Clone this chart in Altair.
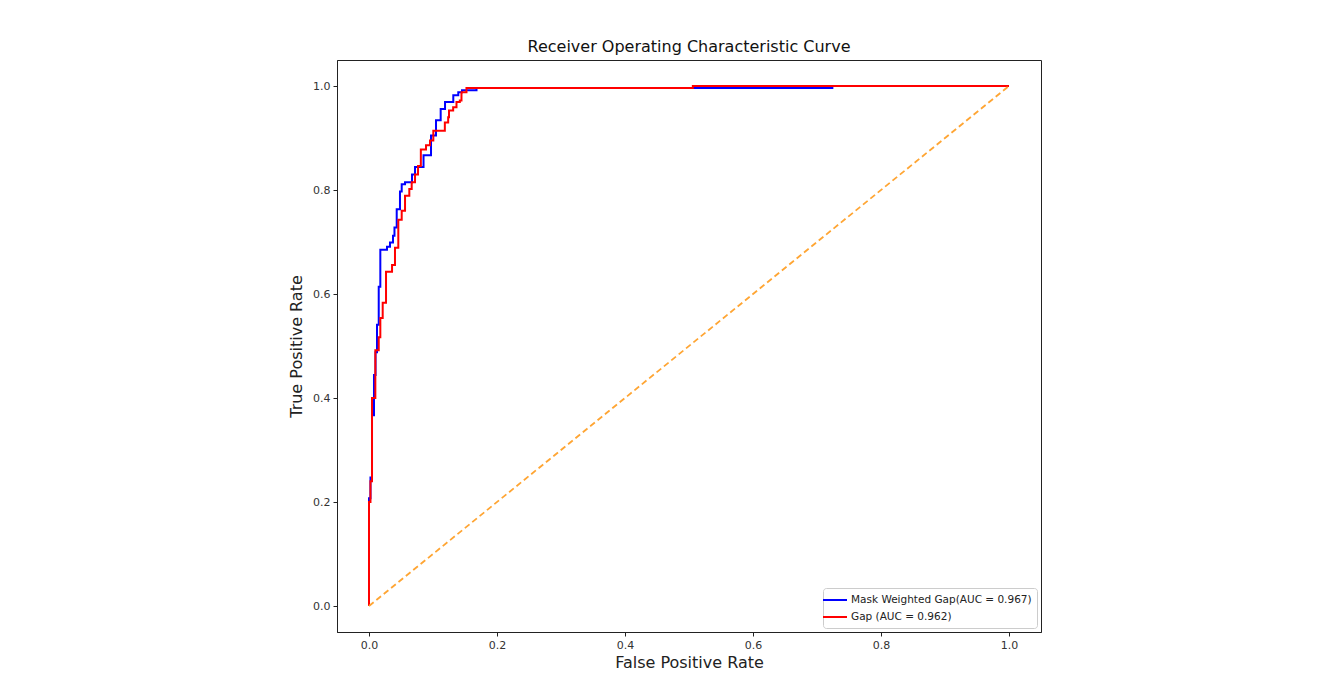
import altair as alt
import pandas as pd

series_names = ["Mask Weighted Gap(AUC = 0.967)", "Gap (AUC = 0.962)"]
series_colors = ["#0000ff", "#ff0000"]

blue_fpr = [0, 0, 0.0023, 0.0023, 0.0047, 0.0047, 0.0078, 0.0078, 0.0102, 0.0102,
            0.0125, 0.0125, 0.0152, 0.0152, 0.0177, 0.0177, 0.0281, 0.0281, 0.0328, 0.0328,
            0.0375, 0.0375, 0.0398, 0.0398, 0.0433, 0.0433, 0.0484, 0.0484, 0.0511, 0.0511,
            0.0563, 0.0563, 0.0672, 0.0672, 0.0719, 0.0719, 0.0852, 0.0852, 0.0969, 0.0969,
            0.1047, 0.1047, 0.112, 0.112, 0.1188, 0.1188, 0.1317, 0.1317, 0.1395, 0.1395,
            0.1453, 0.1453, 0.168, 0.168, 0.724, 0.724, 1.0]
blue_tpr = [0, 0.207, 0.207, 0.247, 0.247, 0.367, 0.367, 0.444, 0.444, 0.488,
            0.488, 0.541, 0.541, 0.614, 0.614, 0.685, 0.685, 0.691, 0.691, 0.699,
            0.699, 0.712, 0.712, 0.728, 0.728, 0.763, 0.763, 0.797, 0.797, 0.811,
            0.811, 0.815, 0.815, 0.830, 0.830, 0.844, 0.844, 0.867, 0.867, 0.905,
            0.905, 0.934, 0.934, 0.956, 0.956, 0.969, 0.969, 0.982, 0.982, 0.988,
            0.988, 0.992, 0.992, 0.996, 0.996, 1.0, 1.0]

red_fpr = [0, 0, 0.0023, 0.0023, 0.0047, 0.0047, 0.0099, 0.0099, 0.0152, 0.0152,
           0.0177, 0.0177, 0.0214, 0.0214, 0.0266, 0.0266, 0.036, 0.036, 0.0406, 0.0406,
           0.0458, 0.0458, 0.0511, 0.0511, 0.0563, 0.0563, 0.0630, 0.0630, 0.0667, 0.0667,
           0.0719, 0.0719, 0.0766, 0.0766, 0.081, 0.081, 0.0891, 0.0891, 0.0953, 0.0953,
           0.1005, 0.1005, 0.1185, 0.1185, 0.1237, 0.1237, 0.125, 0.125, 0.1315, 0.1315,
           0.1367, 0.1367, 0.1419, 0.1419, 0.1445, 0.1445, 0.1523, 0.1523, 0.506, 0.506, 1.0]
red_tpr = [0, 0.2, 0.2, 0.24, 0.24, 0.40, 0.40, 0.492, 0.492, 0.517,
           0.517, 0.554, 0.554, 0.583, 0.583, 0.643, 0.643, 0.656, 0.656, 0.689,
           0.689, 0.743, 0.743, 0.760, 0.760, 0.789, 0.789, 0.802, 0.802, 0.815,
           0.815, 0.830, 0.830, 0.846, 0.846, 0.878, 0.878, 0.886, 0.886, 0.895,
           0.895, 0.914, 0.914, 0.930, 0.930, 0.940, 0.940, 0.953, 0.953, 0.959,
           0.959, 0.969, 0.969, 0.972, 0.972, 0.988, 0.988, 0.996, 0.996, 1.0, 1.0]

diag_fpr = [0.0, 1.0]
diag_tpr = [0.0, 1.0]

tick_values = [0.0, 0.2, 0.4, 0.6, 0.8, 1.0]

FONT = "DejaVu Sans"

blue_df = pd.DataFrame({"fpr": blue_fpr, "tpr": blue_tpr,
                        "idx": range(len(blue_fpr)), "series": series_names[0]})
red_df = pd.DataFrame({"fpr": red_fpr, "tpr": red_tpr,
                       "idx": range(len(red_fpr)), "series": series_names[1]})
diag_df = pd.DataFrame({"fpr": diag_fpr, "tpr": diag_tpr, "idx": [0, 1]})

xscale = alt.Scale(domain=[-0.05, 1.05], nice=False, zero=False)
yscale = alt.Scale(domain=[-0.05, 1.05], nice=False, zero=False)

x_enc = alt.X("fpr:Q", scale=xscale,
              axis=alt.Axis(values=tick_values, format=".1f", title="False Positive Rate",
                            grid=False, tickSize=4, labelPadding=3, titlePadding=4,
                            titleFontSize=16, titleFontWeight="normal", titleColor="#222",
                            labelFontSize=11, labelColor="#333", tickColor="#222",
                            domainColor="#222", labelFont=FONT, titleFont=FONT))
y_enc = alt.Y("tpr:Q", scale=yscale,
              axis=alt.Axis(values=tick_values, format=".1f", title="True Positive Rate",
                            grid=False, tickSize=4, labelPadding=3, titlePadding=8,
                            titleFontSize=16, titleFontWeight="normal", titleColor="#222",
                            labelFontSize=11, labelColor="#333", tickColor="#222",
                            domainColor="#222", labelFont=FONT, titleFont=FONT))

color_enc = alt.Color("series:N",
                      scale=alt.Scale(domain=series_names, range=series_colors),
                      legend=alt.Legend(title=None, orient="bottom-right", offset=4,
                                        symbolType="M-2,0H2", symbolSize=144,
                                        symbolStrokeWidth=2, labelFontSize=10.5,
                                        labelFont=FONT, labelColor="#222",
                                        labelLimit=400,
                                        labelOffset=9, rowPadding=4, padding=5,
                                        fillColor="white", strokeColor="#cccccc",
                                        cornerRadius=3))

blue_layer = alt.Chart(blue_df).mark_line(strokeWidth=2).encode(
    x=x_enc, y=y_enc, color=color_enc, order="idx:Q")
red_layer = alt.Chart(red_df).mark_line(strokeWidth=2).encode(
    x=x_enc, y=y_enc, color=color_enc, order="idx:Q")
diag_layer = alt.Chart(diag_df).mark_line(strokeWidth=1.8, strokeDash=[6, 3.5],
                                          color="#ffa533").encode(
    x=x_enc, y=y_enc, order="idx:Q")

chart = alt.layer(blue_layer, red_layer, diag_layer).properties(
    width=704, height=572,
    background="white",
    title=alt.TitleParams("Receiver Operating Characteristic Curve", fontSize=16,
                          fontWeight="normal", font=FONT, color="#111", offset=5),
    padding={"left": 329, "top": 52, "right": 260, "bottom": 40},
    autosize=alt.AutoSizeParams(type="none"),
).configure_view(stroke="#222", strokeWidth=1)

chart.save("out.html", embed_options={"renderer": "svg", "actions": False})
